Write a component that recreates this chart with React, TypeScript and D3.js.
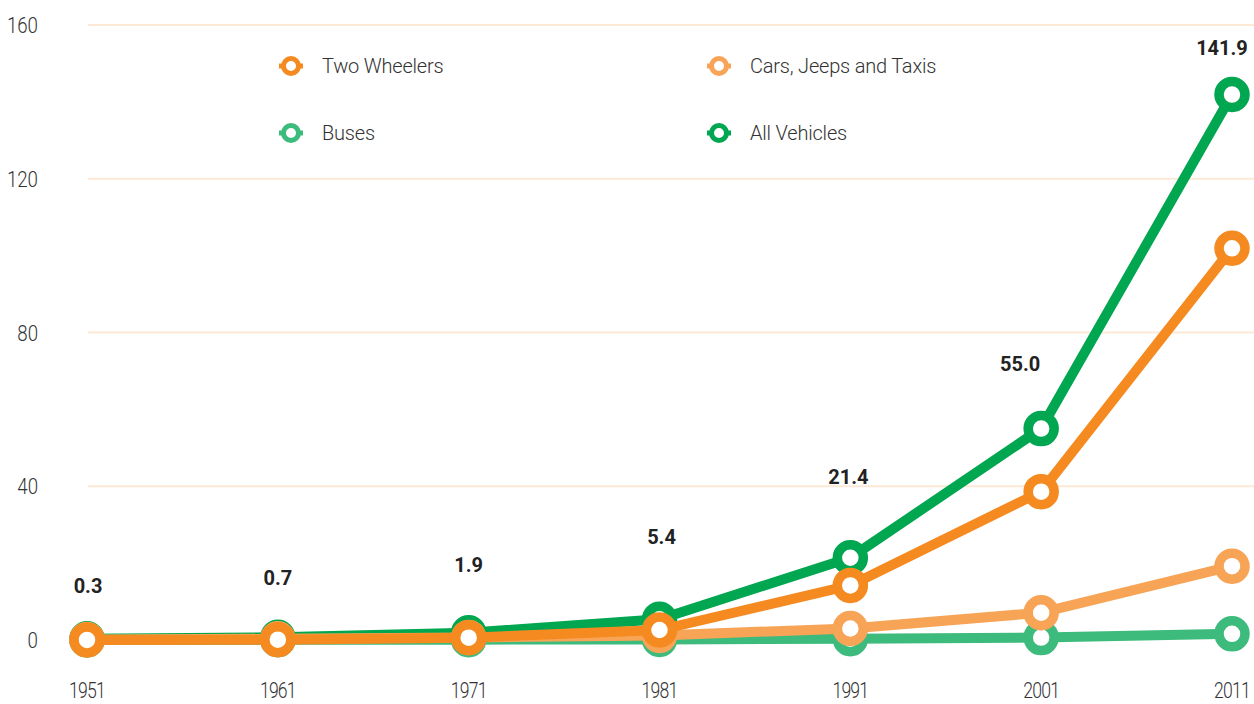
import React from "react";
import * as d3 from "d3";

const years = [1951, 1961, 1971, 1981, 1991, 2001, 2011];
const allVehicles = [0.3, 0.7, 1.9, 5.4, 21.4, 55.0, 141.9];
const twoWheelers = [0.03, 0.09, 0.6, 2.6, 14.2, 38.6, 101.9];
const cars = [0.16, 0.31, 0.68, 1.2, 3.0, 7.1, 19.2];
const buses = [0.03, 0.06, 0.09, 0.16, 0.33, 0.63, 1.6];
const yTicks = [0, 40, 80, 120, 160];
const gridTicks = [40, 80, 120, 160];
const totalLabels = ["0.3", "0.7", "1.9", "5.4", "21.4", "55.0", "141.9"];
// label offsets (px) relative to the All Vehicles point
const labelDx = [1, 0, 0, 2, -2, -21, -10];
const labelDy = [-46, -52, -61, -75, -74, -58, -40];

const series = [
  { name: "All Vehicles", values: allVehicles, color: "#00a650" },
  { name: "Buses", values: buses, color: "#3dbb7c" },
  { name: "Cars, Jeeps and Taxis", values: cars, color: "#f7a457" },
  { name: "Two Wheelers", values: twoWheelers, color: "#f58a20" },
];

const legend = [
  { name: "Two Wheelers", color: "#f58a20", col: 0, row: 0 },
  { name: "Cars, Jeeps and Taxis", color: "#f7a457", col: 1, row: 0 },
  { name: "Buses", color: "#3dbb7c", col: 0, row: 1 },
  { name: "All Vehicles", color: "#00a650", col: 1, row: 1 },
];

export default function App() {
  const W = 1254, H = 704;
  const x = d3.scalePoint<number>().domain(years).range([87, 1232]);
  const y = d3.scaleLinear().domain([0, 160]).range([640, 25]);
  const line = d3
    .line<number>()
    .x((_, i) => x(years[i]) as number)
    .y((d) => y(d));
  const font = "Roboto, 'DejaVu Sans', sans-serif";

  return (
    <svg
      width={W}
      height={H}
      style={{ position: "absolute", left: 0, top: 0, background: "#fff" }}
    >
      {gridTicks.map((t) => (
        <line
          key={t}
          x1={88}
          x2={W}
          y1={y(t)}
          y2={y(t)}
          stroke="#fde9d6"
          strokeWidth={2}
        />
      ))}
      {yTicks.map((t) => (
        <text
          key={t}
          transform={`translate(38,${y(t) + 8}) scale(0.85,1)`}
          textAnchor="end"
          fontFamily={font}
          fontWeight={300}
          fontSize={22}
          fill="#333"
        >
          {t}
        </text>
      ))}
      {years.map((yr) => (
        <text
          key={yr}
          transform={`translate(${x(yr)},698) scale(0.8,1)`}
          textAnchor="middle"
          fontFamily={font}
          fontWeight={300}
          fontSize={22}
          fill="#333"
          letterSpacing={-1}
        >
          {yr}
        </text>
      ))}
      {series.map((s) => (
        <g key={s.name}>
          <path
            d={line(s.values) || ""}
            fill="none"
            stroke={s.color}
            strokeWidth={10}
            strokeLinejoin="round"
          />
          {s.values.map((v, i) => (
            <circle
              key={i}
              cx={x(years[i])}
              cy={y(v)}
              r={13}
              fill="#fff"
              stroke={s.color}
              strokeWidth={9.5}
            />
          ))}
        </g>
      ))}
      {totalLabels.map((lab, i) => (
        <text
          key={lab}
          x={(x(years[i]) as number) + labelDx[i]}
          y={y(allVehicles[i]) + labelDy[i]}
          textAnchor="middle"
          fontFamily={font}
          fontWeight={700}
          fontSize={20}
          fill="#222"
        >
          {lab}
        </text>
      ))}
      {legend.map((l) => {
        const lx = 291 + l.col * 428;
        const ly = 66 + l.row * 67;
        return (
          <g key={l.name}>
            <line x1={lx - 12} x2={lx + 12} y1={ly} y2={ly} stroke={l.color} strokeWidth={5} />
            <circle cx={lx} cy={ly} r={7.5} fill="#fff" stroke={l.color} strokeWidth={5} />
            <text
              x={lx + 31}
              y={ly + 7}
              fontFamily={font}
              fontWeight={300}
              fontSize={20}
              fill="#333"
              letterSpacing={-0.2}
            >
              {l.name}
            </text>
          </g>
        );
      })}
    </svg>
  );
}
